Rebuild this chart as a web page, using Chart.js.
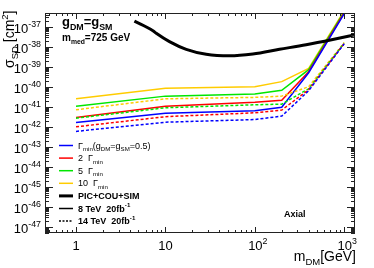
<!DOCTYPE html>
<html>
<head>
<meta charset="utf-8">
<script src="https://cdn.jsdelivr.net/npm/chart.js@4.4.1/dist/chart.umd.min.js"></script>
<style>
  html, body { margin: 0; padding: 0; background: #fff; }
</style>
</head>
<body>
<canvas id="c" width="374" height="268"></canvas>
<script>
// mass points (GeV) of the LHC curves
const massPoints = [1, 10, 100, 200, 400, 1000];

// 8 TeV 20 fb-1 (solid)
const gmin8 = [1.66e-42, 4.7e-42, 6.3e-42, 9.5e-42, 5.0e-40, 4.5e-37];
const gmin2x8 = [2.95e-42, 1.07e-41, 1.7e-41, 2.1e-41, 5.6e-40, 5.0e-37];
const gmin5x8 = [1.05e-41, 3.4e-41, 4.3e-41, 6.6e-41, 7.1e-40, 5.6e-37];
const gmin10x8 = [2.5e-41, 8.3e-41, 1.0e-40, 1.8e-40, 8.3e-40, 6.3e-37];

// 14 TeV 20 fb-1 (dotted)
const gmin14 = [5.9e-43, 1.7e-42, 2.3e-42, 3.4e-42, 6.3e-41, 1.4e-38];
const gmin2x14 = [1.0e-42, 3.2e-42, 5.0e-42, 6.8e-42, 7.1e-41, 1.45e-38];
const gmin5x14 = [2.7e-42, 8.9e-42, 1.26e-41, 1.35e-41, 7.9e-41, 1.5e-38];
const gmin10x14 = [7.1e-42, 2.5e-41, 2.95e-41, 3.4e-41, 1.0e-40, 1.6e-38];

// PIC+COU+SIM direct detection limit
const ddMass = [4.5, 7.25, 7.9, 11.1, 17.1, 28.6, 52, 95, 189, 375, 745, 1350];
const ddLimit = [1.9e-37, 6.3e-38, 4.7e-38, 1.8e-38, 7.4e-39, 4.2e-39, 3.5e-39, 4.3e-39, 7.4e-39, 1.26e-38, 2.3e-38, 4.0e-38];

// axis ticks
const xMajorTicks = [1, 10, 100, 1000];
const xTickLabels = [["1"], ["10"], ["10", "2"], ["10", "3"]];
const yMajorExp = [-47, -46, -45, -44, -43, -42, -41, -40, -39, -38, -37];

const FONT = "'Liberation Sans', Arial, sans-serif";
const BLUE = "#0000ff", RED = "#ff0000", GREEN = "#00e600", YELLOW = "#ffcc00";

function pts(xs, ys) {
  return xs.map((x, i) => ({ x: x, y: ys[i] }));
}

function line(data, color, dotted, width, smooth) {
  return {
    data: data,
    borderColor: color,
    borderWidth: width || 1.5,
    borderDash: dotted ? [3, 2] : [],
    pointRadius: 0,
    fill: false,
    tension: smooth ? 0.4 : 0,
    cubicInterpolationMode: smooth ? "monotone" : "default",
  };
}

// draws text made of normal / sub / sup parts
function richWidth(ctx, parts, size, bold) {
  let w = 0;
  parts.forEach((p) => {
    const s = p.m ? size * 0.68 : size;
    ctx.font = (bold ? "bold " : "") + s + "px " + FONT;
    w += ctx.measureText(p.t).width;
  });
  return w;
}

function drawRich(ctx, parts, x, y, size, bold) {
  let cx = x;
  parts.forEach((p) => {
    const s = p.m ? size * 0.68 : size;
    ctx.font = (bold ? "bold " : "") + s + "px " + FONT;
    let dy = 0;
    if (p.m === "sub") dy = size * 0.3;
    if (p.m === "sup") dy = -size * 0.45;
    ctx.fillText(p.t, cx, y + dy);
    cx += ctx.measureText(p.t).width;
  });
}

const rootStyle = {
  id: "rootStyle",
  afterDraw(chart) {
    const ctx = chart.ctx;
    const a = chart.chartArea;
    const xs = chart.scales.x, ys = chart.scales.y;
    ctx.save();
    ctx.fillStyle = "#000";
    ctx.strokeStyle = "#222";
    ctx.lineWidth = 1;
    ctx.textBaseline = "alphabetic";

    // frame
    ctx.strokeRect(a.left + 0.5, a.top + 0.5, a.right - a.left - 1, a.bottom - a.top - 1);

    // x ticks (bottom and top)
    ctx.beginPath();
    for (let d = -1; d <= 3; d++) {
      for (let k = 1; k <= 9; k++) {
        const v = k * Math.pow(10, d);
        if (v < xs.min || v > xs.max) continue;
        const px = Math.round(xs.getPixelForValue(v)) + 0.5;
        const len = k === 1 ? 6 : 3;
        ctx.moveTo(px, a.bottom); ctx.lineTo(px, a.bottom - len);
        ctx.moveTo(px, a.top); ctx.lineTo(px, a.top + len);
      }
    }
    // y ticks (left and right)
    for (let e = -48; e <= -37; e++) {
      for (let k = 1; k <= 9; k++) {
        const v = k * Math.pow(10, e);
        if (v < ys.min || v > ys.max) continue;
        const py = Math.round(ys.getPixelForValue(v)) + 0.5;
        const len = k === 1 ? 8 : 4;
        ctx.moveTo(a.left, py); ctx.lineTo(a.left + len, py);
        ctx.moveTo(a.right, py); ctx.lineTo(a.right - len, py);
      }
    }
    ctx.stroke();

    // x tick labels
    xMajorTicks.forEach((v, i) => {
      const lab = xTickLabels[i];
      const parts = [{ t: lab[0] }];
      if (lab[1]) parts.push({ t: lab[1], m: "sup" });
      const w = richWidth(ctx, parts, 13, false);
      const px = xs.getPixelForValue(v);
      const off = lab[1] ? w / 2 - 3 : w / 2;
      drawRich(ctx, parts, px - off, a.bottom + 17, 13, false);
    });

    // y tick labels
    yMajorExp.forEach((e) => {
      const parts = [{ t: "10" }, { t: String(e), m: "sup" }];
      const w = richWidth(ctx, parts, 13, false);
      const py = ys.getPixelForValue(Math.pow(10, e));
      drawRich(ctx, parts, 41 - w, py + 6, 13, false);
    });

    // axis titles
    const xt = [{ t: "m" }, { t: "DM", m: "sub" }, { t: "[GeV]" }];
    drawRich(ctx, xt, a.right + 1 - richWidth(ctx, xt, 14, false), 261, 14, false);

    ctx.save();
    ctx.translate(14, 68);
    ctx.rotate(-Math.PI / 2);
    drawRich(ctx, [{ t: "\u03c3" }, { t: "SD", m: "sub" }, { t: " [cm" }, { t: "2", m: "sup" }, { t: "]" }], 0, 0, 14, false);
    ctx.restore();

    // annotations
    drawRich(ctx, [{ t: "g" }, { t: "DM", m: "sub" }, { t: "=g" }, { t: "SM", m: "sub" }], 62, 26, 13, true);
    drawRich(ctx, [{ t: "m" }, { t: "med", m: "sub" }, { t: "=725 GeV" }], 62, 41, 10, true);
    drawRich(ctx, [{ t: "Axial" }], 284, 217, 9, true);

    // legend
    const entries = [
      { c: BLUE, w: 1.5, dash: [], bold: false,
        parts: [{ t: "\u0393" }, { t: "min", m: "sub" }, { t: "(g" }, { t: "DM", m: "sub" }, { t: "=g" }, { t: "SM", m: "sub" }, { t: "=0.5)" }] },
      { c: RED, w: 1.5, dash: [], bold: false, parts: [{ t: "2  \u0393" }, { t: "min", m: "sub" }] },
      { c: GREEN, w: 1.5, dash: [], bold: false, parts: [{ t: "5  \u0393" }, { t: "min", m: "sub" }] },
      { c: YELLOW, w: 1.5, dash: [], bold: false, parts: [{ t: "10  \u0393" }, { t: "min", m: "sub" }] },
      { c: "#000", w: 3, dash: [], bold: true, parts: [{ t: "PIC+COU+SIM" }] },
      { c: "#000", w: 1.5, dash: [], bold: true, parts: [{ t: "8 TeV  20fb" }, { t: "-1", m: "sup" }] },
      { c: "#000", w: 1.5, dash: [2, 1.5], bold: true, parts: [{ t: "14 TeV  20fb" }, { t: "-1", m: "sup" }] },
    ];
    entries.forEach((en, i) => {
      const yc = 145.5 + i * 12.6;
      ctx.beginPath();
      ctx.strokeStyle = en.c;
      ctx.lineWidth = en.w;
      ctx.setLineDash(en.dash);
      ctx.moveTo(59, yc); ctx.lineTo(73, yc);
      ctx.stroke();
      ctx.setLineDash([]);
      ctx.fillStyle = "#000";
      drawRich(ctx, en.parts, 78, yc + 3, 9, en.bold);
    });

    ctx.restore();
  },
};

new Chart(document.getElementById("c"), {
  type: "line",
  data: {
    datasets: [
      line(pts(ddMass, ddLimit), "#000", false, 3, true),
      line(pts(massPoints, gmin14), BLUE, true),
      line(pts(massPoints, gmin2x14), RED, true),
      line(pts(massPoints, gmin5x14), GREEN, true),
      line(pts(massPoints, gmin10x14), YELLOW, true),
      line(pts(massPoints, gmin8), BLUE, false),
      line(pts(massPoints, gmin2x8), RED, false),
      line(pts(massPoints, gmin5x8), GREEN, false),
      line(pts(massPoints, gmin10x8), YELLOW, false),
    ],
  },
  options: {
    responsive: false,
    animation: false,
    layout: { padding: { left: 45, right: 19, top: 13, bottom: 35 } },
    plugins: { legend: { display: false }, tooltip: { enabled: false } },
    scales: {
      x: { type: "logarithmic", min: 0.45, max: 1320, display: false },
      y: { type: "logarithmic", min: 5e-48, max: 4.8e-37, display: false },
    },
  },
  plugins: [rootStyle],
});
</script>
</body>
</html>
